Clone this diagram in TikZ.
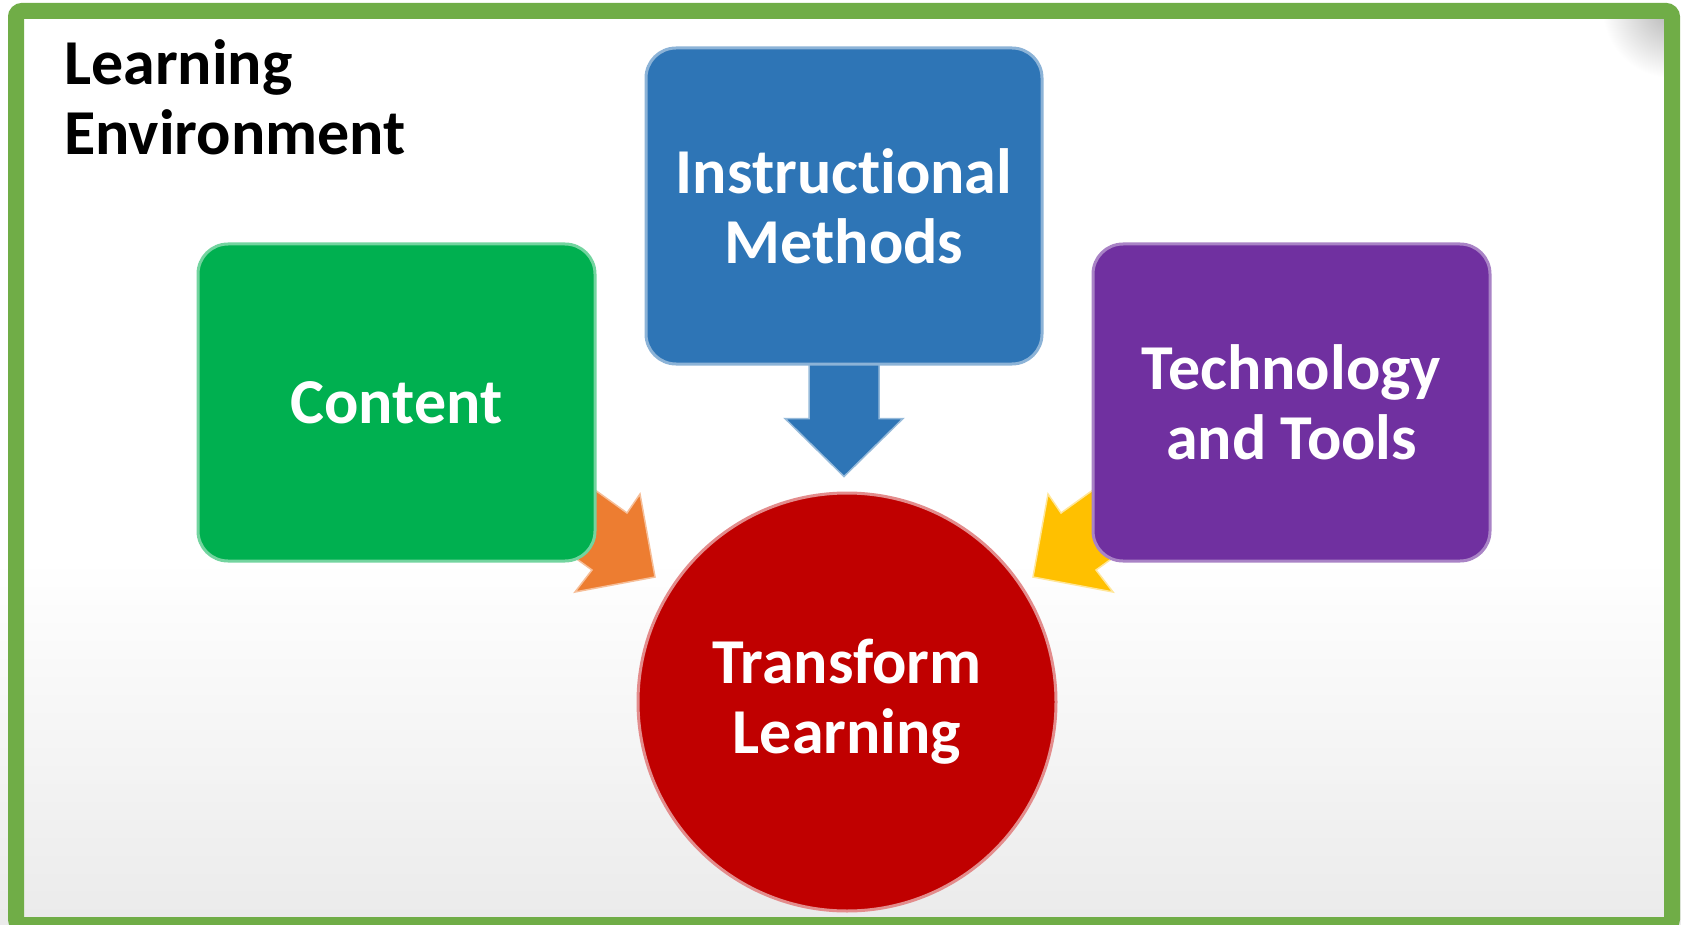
\documentclass[tikz,border=0pt]{standalone}
\usepackage{fontspec}
\setmainfont{Carlito}[Ligatures=NoCommon]
\usetikzlibrary{calc}
\pgfdeclarelayer{bg}
\pgfsetlayers{bg,main}
\definecolor{framegreen}{HTML}{70AD47}
\definecolor{boxgreen}{HTML}{00B050}
\definecolor{boxblue}{HTML}{2E75B6}
\definecolor{boxpurple}{HTML}{7030A0}
\definecolor{circred}{HTML}{C00000}
\definecolor{arrorange}{HTML}{ED7D31}
\definecolor{arryellow}{HTML}{FFC000}
\begin{document}
\begin{tikzpicture}[x=1pt,y=-1pt,
  bigtext/.style={font=\bfseries\fontsize{64}{70}\selectfont},
  boxnode/.style={rounded corners=30pt, minimum width=397pt, minimum height=317pt,
    inner sep=0pt, align=center, text=white, bigtext, line width=3pt},
  blockarrow/.style={line width=1.5pt, line join=miter}
]
\useasboundingbox (0,0) rectangle (1681,925);

% background
\begin{pgfonlayer}{bg}
\fill[white] (0,0) rectangle (1681,925);
\shade[top color=white, bottom color=black!8] (0,560) rectangle (1681,925);
\begin{scope}
  \clip (24,19) rectangle (1664,917);
  \shade[inner color=black!30, outer color=white] (1672,8) circle (70);
\end{scope}
\end{pgfonlayer}

% frame
\draw[framegreen, line width=16pt, rounded corners=6pt] (16,11) rectangle (1672,925);

% title
\node[anchor=north west, align=left, bigtext, inner sep=0pt] (title) at (64,39)
  {Learning\\Environment};

% boxes
\node[boxnode, fill=boxgreen, draw=boxgreen!55!white] (content) at (396.5,402.5) {Content};
\node[boxnode, fill=boxblue, draw=boxblue!55!white, minimum width=396pt, minimum height=316pt]
  (methods) at (844,206) {Instructional\\Methods};
\node[boxnode, fill=boxpurple, draw=boxpurple!60!white] (tech) at (1291.5,402.5) {Technology\\and Tools};

% circle
\node[circle, minimum size=418pt, inner sep=0pt, fill=circred, draw=circred!45!white,
  line width=3pt, text=white, align=center, bigtext] (transform) at (847,702)
  {Transform\\Learning};

% block arrows (behind boxes)
\begin{pgfonlayer}{bg}
\coordinate (downtip) at ($(methods.south)+(0,111)$);
\coordinate (orangetip) at (655,577);
\coordinate (yellowtip) at (1033,577);
\fill[boxblue, draw=boxblue!50!white, blockarrow]
  ($(methods.south)+(-35,-20)$) -- ($(methods.south)+(35,-20)$) --
  ($(methods.south)+(35,53)$) -- ($(methods.south)+(59,53)$) -- (downtip) --
  ($(methods.south)+(-59,53)$) -- ($(methods.south)+(-35,53)$) -- cycle;
\fill[arrorange, draw=arrorange!50!white, blockarrow]
  (570,472) -- (627,513) -- (640,494) -- (orangetip) -- (575,592) -- (592,570) -- (535,529) -- cycle;
\fill[arryellow, draw=arryellow!40!white, blockarrow]
  (1118,472) -- (1061,513) -- (1048,494) -- (yellowtip) -- (1113,592) -- (1096,570) -- (1153,529) -- cycle;
\end{pgfonlayer}
\end{tikzpicture}
\end{document}
